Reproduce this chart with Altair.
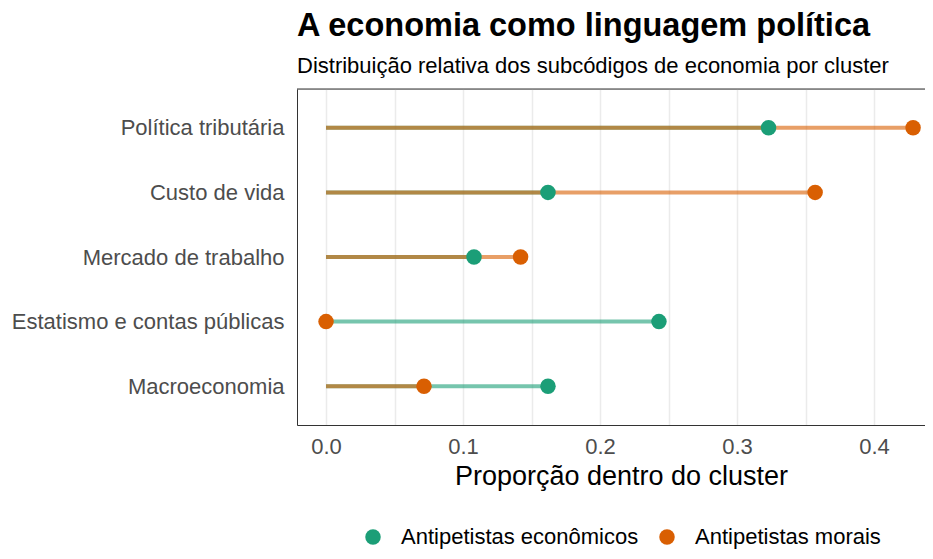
import altair as alt
import pandas as pd

categorias = ["Política tributária", "Custo de vida", "Mercado de trabalho",
              "Estatismo e contas públicas", "Macroeconomia"]
economicos = [0.323, 0.162, 0.108, 0.243, 0.162]
morais = [0.4285, 0.357, 0.142, 0.0, 0.0715]
series = ["Antipetistas econômicos", "Antipetistas morais"]
cores = ["#1B9E77", "#D95F02"]
ticks_x = [0.0, 0.05, 0.1, 0.15, 0.2, 0.25, 0.3, 0.35, 0.4]

rows = []
for c, v in zip(categorias, economicos):
    rows.append({"categoria": c, "cluster": series[0], "valor": v, "ordem": 0})
for c, v in zip(categorias, morais):
    rows.append({"categoria": c, "cluster": series[1], "valor": v, "ordem": 1})
df = pd.DataFrame(rows)

FONT = "Liberation Sans"
W, H = 628, 336

xscale = alt.Scale(domain=[-0.0212, 0.4372], nice=False, zero=False)
yscale = alt.Scale(type="point", padding=0.6)
cscale = alt.Scale(domain=series, range=cores)

x_enc = alt.X("valor:Q", scale=xscale,
              axis=alt.Axis(values=ticks_x, title="Proporção dentro do cluster",
                            labelExpr="abs(round(datum.value*20)) % 2 == 0 ? format(datum.value, '.1f') : ''",
                            grid=True, gridColor="#EBEBEB", gridWidth=1.5,
                            ticks=False, domain=True, domainColor="#333333", domainWidth=1,
                            labelFontSize=22, labelColor="#4D4D4D", labelPadding=11,
                            titleFontSize=27, titleColor="#000000", titleFontWeight="normal",
                            titlePadding=6, titleX=324, titleAlign="center",
                            labelFont=FONT, titleFont=FONT))
y_enc = alt.Y("categoria:N", sort=categorias, scale=yscale,
              axis=alt.Axis(title=None, ticks=False, domain=True, domainColor="#333333",
                            domainWidth=1, grid=False, labelFontSize=22,
                            labelColor="#4D4D4D", labelPadding=13, labelFont=FONT,
                            labelLimit=400))

base = alt.Chart(df)

segs = base.mark_rule(strokeWidth=4, opacity=0.6).encode(
    x=x_enc,
    x2=alt.X2("zero:Q"),
    y=y_enc,
    color=alt.Color("cluster:N", scale=cscale, legend=None),
    order=alt.Order("ordem:Q"),
).transform_calculate(zero="0")

pts = base.mark_circle(size=240, opacity=1).encode(
    x=alt.X("valor:Q", scale=xscale),
    y=alt.Y("categoria:N", sort=categorias, scale=yscale),
    color=alt.Color("cluster:N", scale=cscale,
                    legend=alt.Legend(title=None, orient="none", direction="horizontal",
                                      legendX=65, legendY=437, symbolType="circle",
                                      symbolSize=240, symbolOpacity=1, symbolStrokeWidth=0,
                                      labelFontSize=22, labelColor="#000000", labelFont=FONT,
                                      labelOffset=17, columnPadding=17, padding=0,
                                      labelLimit=400)),
    order=alt.Order("ordem:Q"),
)

topline = alt.Chart(pd.DataFrame({"a": [0]})).mark_rule(color="#333333", strokeWidth=1).encode(
    y=alt.value(0), x=alt.value(0), x2=alt.value(W + 5)
)

chart = alt.layer(segs, pts, topline).resolve_legend(color="independent").properties(
    width=W, height=H,
    title=alt.TitleParams(
        "A economia como linguagem política",
        subtitle="Distribuição relativa dos subcódigos de economia por cluster",
        anchor="start", frame="group", font=FONT, fontSize=32.5, fontWeight="bold",
        color="#000000", subtitleFont=FONT, subtitleFontSize=22, subtitleColor="#000000",
        subtitlePadding=13, offset=12),
    autosize=alt.AutoSizeParams(type="none"),
    padding={"left": 289, "top": 81, "right": 0, "bottom": 126},
).configure_view(stroke=None).configure(font=FONT, background="white")

chart.save("out.html", embed_options={"renderer": "svg", "actions": False})
